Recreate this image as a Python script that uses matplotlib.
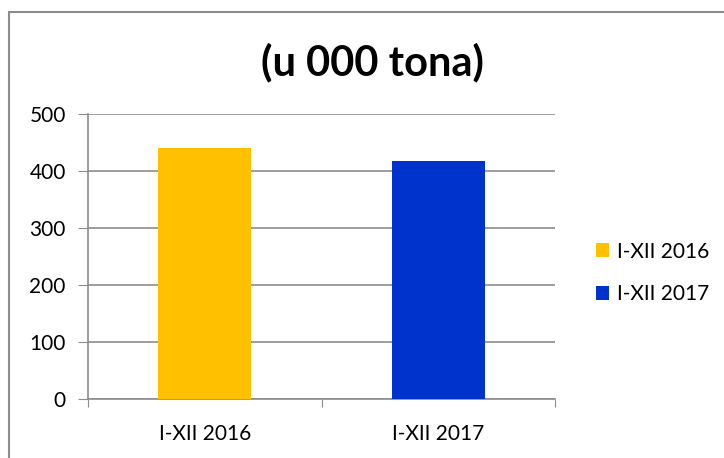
import matplotlib.pyplot as plt
from matplotlib.patches import Rectangle

categories = ["I-XII 2016", "I-XII 2017"]
values = [441, 418]
colors = ["#FFC000", "#0033CC"]
yticks = [0, 100, 200, 300, 400, 500]

plt.rcParams["font.family"] = ["Lato", "DejaVu Sans"]

fig = plt.figure(figsize=(7.24, 4.58), dpi=100)
W, H = 724, 458
ax = fig.add_axes([88 / W, 1 - 399.3 / H, (555 - 88) / W, (399.3 - 114) / H])

x = range(len(categories))
bars = ax.bar(x, values, width=0.40, color=colors, zorder=3)

ax.set_xlim(-0.5, len(categories) - 0.5)
ax.set_ylim(0, 500)
ax.set_yticks(yticks)
ax.set_yticklabels([str(t) for t in yticks], fontsize=15)
ax.set_xticks([-0.5, 0.5, 1.5])
ax.set_xticklabels([])
ax.tick_params(axis="x", length=6, color="#8c8c8c", direction="out")
ax.tick_params(axis="y", length=7, color="#8c8c8c", direction="out", pad=9)
for i, c in enumerate(categories):
    ax.text(i, -0.085, c, transform=ax.get_xaxis_transform(), ha="center", va="top", fontsize=15)

ax.grid(axis="y", color="#8c8c8c", linewidth=1.2, zorder=0)
for s in ["top", "right"]:
    ax.spines[s].set_visible(False)
for s in ["left", "bottom"]:
    ax.spines[s].set_color("#8c8c8c")
    ax.spines[s].set_linewidth(1.2)

fig.text(372 / W, 1 - 62 / H, "(u 000 tona)", ha="center", va="center", fontsize=30, fontweight="bold")

leg = fig.legend(bars, categories, loc="center left", bbox_to_anchor=(577 / W, 1 - 273 / H),
                 frameon=False, fontsize=15, handlelength=0.65, handleheight=0.65,
                 handletextpad=0.35, labelspacing=1.1)

fig.patches.append(Rectangle((9 / W, -0.1), 1.2, 1 - 12 / H + 0.1, transform=fig.transFigure,
                             fill=False, edgecolor="#8c8c8c", linewidth=1.5))

fig.savefig("out.png", dpi=100)
